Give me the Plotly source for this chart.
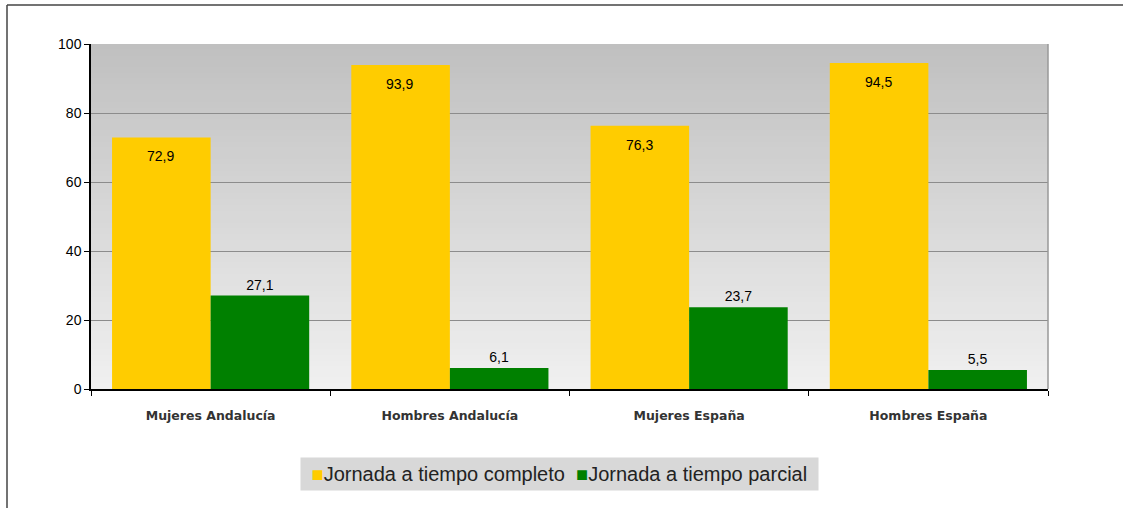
import plotly.graph_objects as go

categories = ['Mujeres Andalucía', 'Hombres Andalucía', 'Mujeres España', 'Hombres España']
series_names = ['Jornada a tiempo completo', 'Jornada a tiempo parcial']
completo = [72.9, 93.9, 76.3, 94.5]
parcial = [27.1, 6.1, 23.7, 5.5]
y_ticks = [0, 20, 40, 60, 80, 100]
colors = ['#ffcc00', '#008000']

fig = go.Figure()
fig.add_trace(go.Bar(name=series_names[0], x=categories, y=completo,
                     marker_color=colors[0], marker_line_width=0))
fig.add_trace(go.Bar(name=series_names[1], x=categories, y=parcial,
                     marker_color=colors[1], marker_line_width=0,
                     texttemplate='%{y:.1f}', textposition='outside',
                     textfont=dict(family='Liberation Sans', size=14, color='black'),
                     cliponaxis=False))

# labels inside the yellow bars, a bit below the top
for cat, val in zip(categories, completo):
    fig.add_annotation(x=cat, y=val, xshift=-50, yshift=-19, showarrow=False,
                       text=f'{val:.1f}'.replace('.', ','),
                       font=dict(family='Liberation Sans', size=14, color='black'))

# legend drawn as a boxed line of text, like the original
legend_text = '&nbsp;' + '&nbsp;&nbsp;'.join(
    f'<span style="color:{c}">■</span>{name}' for c, name in zip(colors, series_names)) + '&nbsp;'
fig.add_annotation(xref='paper', yref='paper', x=0.49, y=-0.246, xanchor='center',
                   yanchor='middle', showarrow=False, text=legend_text,
                   bgcolor='#d8d8d8', borderpad=5,
                   font=dict(family='Liberation Sans', size=20, color='#222'))

# vertical gradient for the plot background
n = 60
shapes = []
top, bot = (0xc0, 0xc0, 0xc0), (0xf0, 0xf0, 0xf0)
for i in range(n):
    t = i / (n - 1)
    c = tuple(round(top[k] + (bot[k] - top[k]) * t) for k in range(3))
    shapes.append(dict(type='rect', xref='paper', yref='paper', layer='below',
                       x0=0, x1=1, y0=max(0, 1 - (i + 1) / n - 0.004), y1=1 - i / n,
                       fillcolor='rgb(%d,%d,%d)' % c, line_width=0))
# right edge of the plot area
shapes.append(dict(type='line', xref='paper', yref='paper', x0=1, x1=1, y0=0, y1=1,
                   line=dict(color='#999999', width=1.5)))
# outer frame: only the top and left edges fall inside the picture
frame_top = 1 + (44 - 5) / 345
frame_left = (7 - 91) / 957
shapes.append(dict(type='line', xref='paper', yref='paper',
                   x0=frame_left, x1=1.2, y0=frame_top, y1=frame_top,
                   line=dict(color='#444444', width=1.5)))
shapes.append(dict(type='line', xref='paper', yref='paper',
                   x0=frame_left, x1=frame_left, y0=-0.5, y1=frame_top,
                   line=dict(color='#444444', width=1.5)))

fig.update_layout(
    barmode='group', bargap=0.176, bargroupgap=0,
    separators=',.',
    width=1123, height=508,
    margin=dict(l=91, r=75, t=44, b=119),
    paper_bgcolor='white', plot_bgcolor='rgba(0,0,0,0)',
    shapes=shapes,
    showlegend=False,
    font=dict(family='Liberation Sans'),
)
fig.update_xaxes(showline=True, linecolor='black', linewidth=1.5,
                 ticks='outside', tickson='boundaries', ticklen=5, tickcolor='black',
                 ticklabelstandoff=14,
                 tickfont=dict(family='DejaVu Sans', size=12.5, color='#333', weight='bold'),
                 showgrid=False)
fig.update_yaxes(range=[0, 100], tickvals=y_ticks, showline=True, linecolor='black',
                 linewidth=1.5, ticks='outside', ticklen=5, tickcolor='black',
                 gridcolor='#8c8c8c', gridwidth=1, zeroline=False,
                 tickfont=dict(family='Liberation Sans', size=14, color='black'))

# drop the default page margin (and scrollbars) so the figure sits at the window's corner
fig.write_html('out.html', config={'displayModeBar': False},
               post_script="document.body.style.margin='0';"
                           "document.documentElement.style.overflow='hidden';")
